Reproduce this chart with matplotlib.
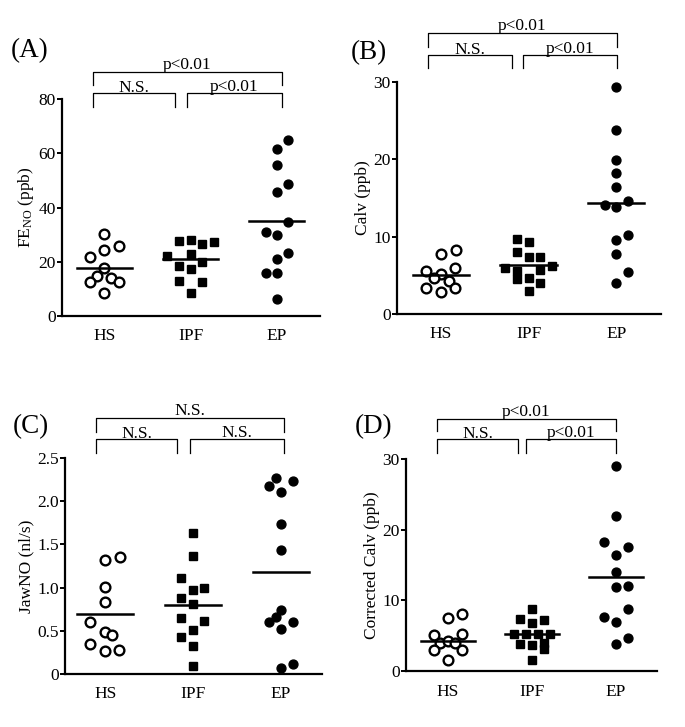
import matplotlib
matplotlib.use("Agg")
import matplotlib.pyplot as plt

plt.rcParams["font.family"] = ["Liberation Serif", "DejaVu Serif"]

groups = ["HS", "IPF", "EP"]

# (A) FeNO
feno_hs = [30.4, 25.9, 24.3, 21.6, 17.8, 14.7, 13.9, 12.6, 12.4, 8.6]
feno_hs_dx = [0, 0.17, 0, -0.16, 0, -0.09, 0.08, -0.16, 0.17, 0]
feno_ipf = [27.7, 28.2, 26.7, 27.4, 22.1, 22.8, 18.4, 20.0, 17.2, 12.9, 12.4, 8.3]
feno_ipf_dx = [-0.13, 0, 0.13, 0.27, -0.27, 0, -0.13, 0.13, 0, -0.13, 0.13, 0]
feno_ep = [64.8, 61.7, 55.6, 48.8, 45.8, 34.5, 31.0, 29.8, 23.3, 20.9, 16.0, 16.0, 6.3]
feno_ep_dx = [0.13, 0, 0, 0.13, 0, 0.13, -0.13, 0, 0.13, 0, -0.13, 0, 0]
feno_med = [17.8, 20.9, 35.1]

# (B) Calv
calv_hs = [7.8, 8.3, 5.5, 5.2, 5.9, 4.6, 4.3, 3.3, 2.9, 3.3]
calv_hs_dx = [0, 0.17, -0.17, 0, 0.16, -0.08, 0.09, -0.17, 0, 0.16]
calv_ipf = [9.7, 9.3, 8.0, 7.4, 7.4, 6.0, 6.2, 5.6, 5.7, 4.5, 4.7, 4.0, 3.0]
calv_ipf_dx = [-0.13, 0, -0.13, 0, 0.13, -0.27, 0.27, -0.13, 0.13, -0.13, 0, 0.13, 0]
calv_ep = [29.3, 23.8, 19.9, 18.2, 16.4, 14.6, 14.1, 13.9, 10.2, 9.6, 7.7, 5.4, 4.0]
calv_ep_dx = [0, 0, 0, 0, 0, 0.13, -0.13, 0, 0.13, 0, 0, 0.13, 0]
calv_med = [5.0, 6.3, 14.4]

# (C) JawNO
jaw_hs = [1.32, 1.35, 1.01, 0.83, 0.60, 0.49, 0.45, 0.35, 0.27, 0.28]
jaw_hs_dx = [0, 0.17, 0, 0, -0.17, 0, 0.08, -0.17, 0, 0.16]
jaw_ipf = [1.63, 1.37, 1.11, 0.97, 1.00, 0.88, 0.81, 0.65, 0.61, 0.51, 0.43, 0.32, 0.09]
jaw_ipf_dx = [0, 0, -0.14, 0, 0.13, -0.14, 0, -0.14, 0.13, 0, -0.14, 0, 0]
jaw_ep = [2.27, 2.18, 2.23, 2.11, 1.74, 1.44, 0.74, 0.66, 0.60, 0.60, 0.52, 0.07, 0.12]
jaw_ep_dx = [-0.06, -0.13, 0.14, 0, 0, 0, 0, -0.06, -0.13, 0.14, 0, 0, 0.14]
jaw_med = [0.69, 0.80, 1.18]

# (D) corrected Calv
ccalv_hs = [7.5, 8.1, 5.1, 5.2, 4.0, 4.2, 3.9, 3.0, 3.0, 1.5]
ccalv_hs_dx = [0, 0.17, -0.17, 0.17, -0.09, 0, 0.08, -0.17, 0.17, 0]
ccalv_ipf = [8.8, 7.4, 7.2, 6.8, 5.3, 5.2, 5.2, 5.3, 3.8, 3.7, 4.0, 3.1, 1.5]
ccalv_ipf_dx = [0, -0.14, 0.14, 0, -0.21, -0.07, 0.07, 0.21, -0.14, 0, 0.14, 0.14, 0]
ccalv_ep = [29.0, 22.0, 18.3, 17.5, 16.4, 14.0, 11.9, 12.0, 8.8, 7.6, 7.0, 4.7, 3.8]
ccalv_ep_dx = [0, 0, -0.14, 0.15, 0, 0, 0, 0.15, 0.15, -0.14, 0, 0.15, 0]
ccalv_med = [4.3, 5.2, 13.3]

W, H = 685, 727
fig = plt.figure(figsize=(W / 100, H / 100), dpi=100)


def panel(box, xlim, ylim, yticks, yticklabels, ylabel, letter, letter_xy,
          hs, hs_dx, ipf, ipf_dx, ep, ep_dx, med, br_x, br_y, br_txt):
    left, right, bottom, top = box
    ax = fig.add_axes([left / W, 1 - bottom / H, (right - left) / W, (bottom - top) / H])
    ah = bottom - top

    ax.plot([0 + d for d in hs_dx], hs, "o", ms=7.0, mfc="white", mec="black", mew=1.7, clip_on=False)
    ax.plot([1 + d for d in ipf_dx], ipf, "s", ms=6.2, color="black", clip_on=False)
    ax.plot([2 + d for d in ep_dx], ep, "o", ms=6.4, color="black", clip_on=False)
    for i, m in enumerate(med):
        ax.plot([i - 0.32, i + 0.32], [m, m], color="black", lw=1.8)

    ax.set_xlim(*xlim)
    ax.set_ylim(*ylim)
    ax.set_xticks([0, 1, 2])
    ax.set_xticklabels(groups)
    ax.set_yticks(yticks)
    ax.set_yticklabels(yticklabels)
    ax.tick_params(axis="x", length=0, pad=9, labelsize=12.5)
    ax.tick_params(axis="y", length=3.5, width=1.4, pad=1.0, labelsize=12.5)
    ax.set_ylabel(ylabel, fontsize=12.5, labelpad=2)
    for s in ["top", "right"]:
        ax.spines[s].set_visible(False)
    for s in ["left", "bottom"]:
        ax.spines[s].set_linewidth(1.6)

    # significance brackets (y given in pixels above the axes top)
    tr = ax.get_xaxis_transform()
    fy = lambda p: 1 + p / ah
    x0, x1, x2, x3 = br_x
    o_line, o_leg, i_line, i_leg = br_y
    kw = dict(color="black", lw=0.9, transform=tr, clip_on=False)
    ax.plot([x0, x0, x3, x3], [fy(o_leg), fy(o_line), fy(o_line), fy(o_leg)], **kw)
    ax.plot([x0, x0, x1, x1], [fy(i_leg), fy(i_line), fy(i_line), fy(i_leg)], **kw)
    ax.plot([x2, x2, x3, x3], [fy(i_leg), fy(i_line), fy(i_line), fy(i_leg)], **kw)
    tk = dict(transform=tr, ha="center", va="baseline", fontsize=12.5)
    ax.text((x0 + x3) / 2, fy(o_line + 3), br_txt[0], **tk)
    ax.text((x0 + x1) / 2, fy(i_line + 1), br_txt[1], **tk)
    ax.text((x2 + x3) / 2, fy(i_line + 2), br_txt[2], **tk)

    fig.text(letter_xy[0] / W, 1 - letter_xy[1] / H, letter, fontsize=19.5, ha="center", va="center")
    return ax


panel((62, 320, 316, 99), (-0.49, 2.50), (0, 80), [0, 20, 40, 60, 80],
      ["0", "20", "40", "60", "80"], r"$\mathregular{FE_{NO}}$ (ppb)", "(A)", (30, 51),
      feno_hs, feno_hs_dx, feno_ipf, feno_ipf_dx, feno_ep, feno_ep_dx, feno_med,
      (-0.13, 0.82, 0.96, 2.06), (27, 14, 6, -8), ("p<0.01", "N.S.", "p<0.01"))

panel((397, 661, 314, 82), (-0.50, 2.51), (0, 30), [0, 10, 20, 30],
      ["0", "10", "20", "30"], "Calv (ppb)", "(B)", (369, 53),
      calv_hs, calv_hs_dx, calv_ipf, calv_ipf_dx, calv_ep, calv_ep_dx, calv_med,
      (-0.15, 0.81, 0.94, 2.01), (49, 35, 27, 14), ("p<0.01", "N.S.", "p<0.01"))

panel((65, 322, 674, 458), (-0.46, 2.47), (0, 2.5), [0, 0.5, 1.0, 1.5, 2.0, 2.5],
      ["0", "0.5", "1.0", "1.5", "2.0", "2.5"], "JawNO (nl/s)", "(C)", (31, 427),
      jaw_hs, jaw_hs_dx, jaw_ipf, jaw_ipf_dx, jaw_ep, jaw_ep_dx, jaw_med,
      (-0.11, 0.82, 0.97, 2.04), (40, 26, 19, 5), ("N.S.", "N.S.", "N.S."))

panel((406, 657, 671, 459), (-0.50, 2.49), (0, 30), [0, 10, 20, 30],
      ["0", "10", "20", "30"], "Corrected Calv (ppb)", "(D)", (374, 427),
      ccalv_hs, ccalv_hs_dx, ccalv_ipf, ccalv_ipf_dx, ccalv_ep, ccalv_ep_dx, ccalv_med,
      (-0.13, 0.84, 0.93, 2.0), (40, 28, 20, 6), ("p<0.01", "N.S.", "p<0.01"))

fig.savefig("out.png", dpi=100)
